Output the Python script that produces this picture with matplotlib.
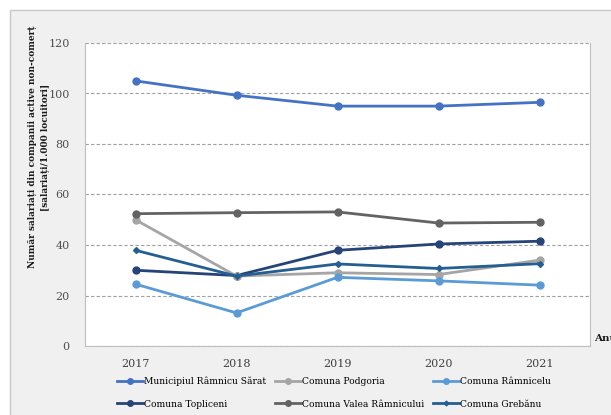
import matplotlib.pyplot as plt
from matplotlib.patches import Rectangle

# ------------------------------------------------------------------
# Data
# ------------------------------------------------------------------
years = ["2017", "2018", "2019", "2020", "2021"]

municipiul = [105.0, 99.3, 95.0, 95.0, 96.5]
podgoria = [50.0, 27.7, 29.0, 28.3, 34.0]
ramnicelu = [24.5, 13.1, 27.2, 25.8, 24.1]
topliceni = [30.0, 27.9, 37.9, 40.4, 41.5]
valea = [52.4, 52.8, 53.1, 48.7, 49.0]
grebanu = [37.9, 27.7, 32.5, 30.7, 32.6]

# legend is filled column by column, so the order is interleaved
series = [
    ("Municipiul Râmnicu Sărat", municipiul, "#4472C4", "o", 5),
    ("Comuna Topliceni", topliceni, "#264478", "o", 5),
    ("Comuna Podgoria", podgoria, "#A5A5A5", "o", 5),
    ("Comuna Valea Râmnicului", valea, "#636363", "o", 5),
    ("Comuna Râmnicelu", ramnicelu, "#5B9BD5", "o", 5),
    ("Comuna Grebănu", grebanu, "#255E91", "D", 3),
]

ylabel = "Număr salariați din companii active non-comerț\n[salariați/1.000 locuitori]"

# ------------------------------------------------------------------
# Figure
# ------------------------------------------------------------------
plt.rcParams["font.family"] = ["DejaVu Serif"]

fig = plt.figure(figsize=(6.11, 4.15), dpi=100)
fig.patch.set_facecolor("white")
fig.patches.append(Rectangle((10 / 611, -0.01), 1.0, 1 - 10 / 415 + 0.01,
                             transform=fig.transFigure, facecolor="#f0f0f0",
                             edgecolor="#c8c8c8", linewidth=1.0, zorder=-5))

ax = fig.add_axes([85 / 611, 1 - 346 / 415, 505 / 611, 303 / 415])
ax.set_facecolor("white")

x = list(range(len(years)))
for name, vals, color, marker, ms in series:
    ax.plot(x, vals, color=color, linewidth=2.0, marker=marker,
            markersize=ms, label=name, zorder=3)

ax.set_xlim(-0.5, len(years) - 0.5)
ax.set_ylim(0, 120)
ax.set_yticks(range(0, 121, 20))
ax.set_xticks(x)
ax.set_xticklabels(years)

ax.grid(axis="y", color="#a0a0a0", linestyle=(0, (3, 2)), linewidth=0.8)
ax.set_axisbelow(True)
for s in ["left", "bottom", "right"]:
    ax.spines[s].set_color("#bfbfbf")
ax.spines["top"].set_visible(False)

ax.tick_params(axis="y", colors="#505050", labelsize=8, length=0, pad=11)
ax.tick_params(axis="x", colors="#404040", labelsize=8, length=0, pad=9)

fig.text(39 / 611, 1 - 147 / 415, ylabel, rotation=90, ha="center",
         va="center", fontsize=6.5, fontweight="bold", color="#1a1a1a",
         linespacing=1.45)
fig.text(594 / 611, 1 - 338 / 415, "Anul", ha="left", va="center",
         fontsize=7.5, fontweight="bold", color="#1a1a1a")

fig.legend(loc="upper left", bbox_to_anchor=(115 / 611, 1 - 375 / 415),
           ncol=3, frameon=False, fontsize=6.6, handlelength=2.9,
           columnspacing=0.9, labelspacing=1.45, handletextpad=0.1,
           borderpad=0.2, borderaxespad=0, markerscale=0.8)

fig.savefig("out.png", dpi=100)
plt.close()
